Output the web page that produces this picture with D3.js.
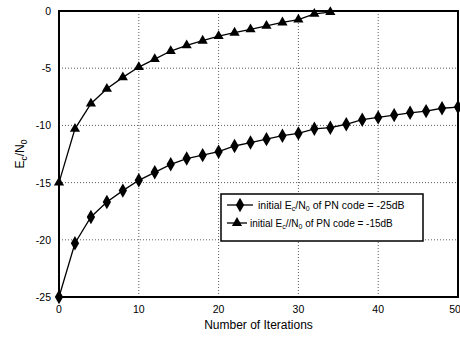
<!DOCTYPE html>
<html>
<head>
<meta charset="utf-8">
<script src="https://cdn.jsdelivr.net/npm/d3@7"></script>
<style>
  body { margin: 0; background: #fff; }
  text { font-family: "Liberation Sans", Arial, sans-serif; }
</style>
</head>
<body>
<div id="chart"></div>
<script>
// iterations (markers every 2)
const iters25 = [0,2,4,6,8,10,12,14,16,18,20,22,24,26,28,30,32,34,36,38,40,42,44,46,48,50];
const snr25 = [-25,-20.3,-18.0,-16.7,-15.7,-14.8,-14.1,-13.4,-12.9,-12.6,-12.3,-11.8,-11.5,-11.2,-10.9,-10.7,-10.3,-10.2,-9.9,-9.5,-9.3,-9.1,-8.9,-8.75,-8.5,-8.4];
const iters15 = [0,2,4,6,8,10,12,14,16,18,20,22,24,26,28,30,32,34];
const snr15 = [-15,-10.3,-8.1,-6.8,-5.8,-4.9,-4.2,-3.5,-3.0,-2.6,-2.2,-1.9,-1.6,-1.3,-1.0,-0.75,-0.25,-0.1];
const xTicks = [0,10,20,30,40,50];
const yTicks = [0,-5,-10,-15,-20,-25];

const width = 460, height = 337;
const margin = { top: 11, right: 2, bottom: 40, left: 59 };

const x = d3.scaleLinear().domain([0, 50]).range([margin.left, width - margin.right]);
const y = d3.scaleLinear().domain([-25, 0]).range([height - margin.bottom, margin.top]);

const svg = d3.select("#chart").append("svg")
    .attr("width", width)
    .attr("height", height);

// dotted grid
svg.append("g").selectAll("line")
    .data(xTicks.slice(1, -1))
    .enter().append("line")
    .attr("x1", d => x(d)).attr("x2", d => x(d))
    .attr("y1", y(0)).attr("y2", y(-25))
    .attr("stroke", "#333").attr("stroke-width", 0.8)
    .attr("stroke-dasharray", "1,2");
svg.append("g").selectAll("line")
    .data(yTicks.slice(1, -1))
    .enter().append("line")
    .attr("x1", x(0)).attr("x2", x(50))
    .attr("y1", d => y(d)).attr("y2", d => y(d))
    .attr("stroke", "#333").attr("stroke-width", 0.8)
    .attr("stroke-dasharray", "1,2");

// tick labels
svg.append("g").selectAll("text")
    .data(yTicks)
    .enter().append("text")
    .attr("x", x(0) - 8)
    .attr("y", d => y(d) + 4)
    .attr("text-anchor", "end")
    .style("font-size", "10.5px")
    .text(d => d === 0 ? "0" : "-" + Math.abs(d));
svg.append("g").selectAll("text")
    .data(xTicks)
    .enter().append("text")
    .attr("x", d => d === 50 ? x(d) - 3 : x(d))
    .attr("y", y(-25) + 16)
    .attr("text-anchor", "middle")
    .style("font-size", "10.5px")
    .text(d => d);

// series
const line = d3.line().x(d => x(d[0])).y(d => y(d[1]));
const data25 = iters25.map((t, i) => [t, snr25[i]]);
const data15 = iters15.map((t, i) => [t, snr15[i]]);

svg.append("path").datum(data25)
    .attr("d", line).attr("fill", "none").attr("stroke", "#000").attr("stroke-width", 1.3);
svg.append("path").datum(data15)
    .attr("d", line).attr("fill", "none").attr("stroke", "#000").attr("stroke-width", 1.3);

const diamond = d3.symbol().type(d3.symbolDiamond).size(60);
const triangle = d3.symbol().type(d3.symbolTriangle).size(45);

svg.append("g").selectAll("path")
    .data(data25)
    .enter().append("path")
    .attr("d", diamond)
    .attr("transform", d => `translate(${x(d[0])},${y(d[1])})`)
    .attr("fill", "#000");
svg.append("g").selectAll("path")
    .data(data15)
    .enter().append("path")
    .attr("d", triangle)
    .attr("transform", d => `translate(${x(d[0])},${y(d[1])})`)
    .attr("fill", "#000");

// frame
svg.append("rect")
    .attr("x", x(0)).attr("y", y(0))
    .attr("width", x(50) - x(0)).attr("height", y(-25) - y(0))
    .attr("fill", "none").attr("stroke", "#000").attr("stroke-width", 2);

// legend
const lg = svg.append("g");
lg.append("rect")
    .attr("x", 221).attr("y", 194).attr("width", 202).attr("height", 47)
    .attr("fill", "#fff").attr("stroke", "#000").attr("stroke-width", 1.5);

const legendItems = [
    { sym: diamond, x1: 227, x2: 253, y: 205, tx: 258, fs: 10.5, sep: "/", val: "-25dB" },
    { sym: triangle, x1: 227, x2: 247, y: 223, tx: 250, fs: 10, sep: "//", val: "-15dB" }
];
legendItems.forEach(it => {
    lg.append("line")
        .attr("x1", it.x1).attr("x2", it.x2)
        .attr("y1", it.y).attr("y2", it.y)
        .attr("stroke", "#000").attr("stroke-width", 1.3);
    lg.append("path")
        .attr("d", it.sym)
        .attr("transform", `translate(${(it.x1 + it.x2) / 2},${it.y})`)
        .attr("fill", "#000");
    const t = lg.append("text")
        .attr("x", it.tx).attr("y", it.y + 3.5)
        .style("font-size", it.fs + "px");
    t.append("tspan").text("initial E");
    t.append("tspan").attr("dy", 2.5).style("font-size", "7px").text("c");
    t.append("tspan").attr("dy", -2.5).text(it.sep + "N");
    t.append("tspan").attr("dy", 2.5).style("font-size", "7px").text("0");
    t.append("tspan").attr("dy", -2.5).text(" of PN code = " + it.val);
});

// axis titles
const yl = svg.append("text")
    .attr("transform", `translate(24,${(y(0) + y(-25)) / 2}) rotate(-90)`)
    .attr("text-anchor", "middle")
    .style("font-size", "12px");
yl.append("tspan").text("E");
yl.append("tspan").attr("dy", 3).style("font-size", "8.5px").text("c");
yl.append("tspan").attr("dy", -3).text("/N");
yl.append("tspan").attr("dy", 3).style("font-size", "8.5px").text("0");

svg.append("text")
    .attr("x", (x(0) + x(50)) / 2)
    .attr("y", 329)
    .attr("text-anchor", "middle")
    .style("font-size", "12px")
    .text("Number of Iterations");
</script>
</body>
</html>
